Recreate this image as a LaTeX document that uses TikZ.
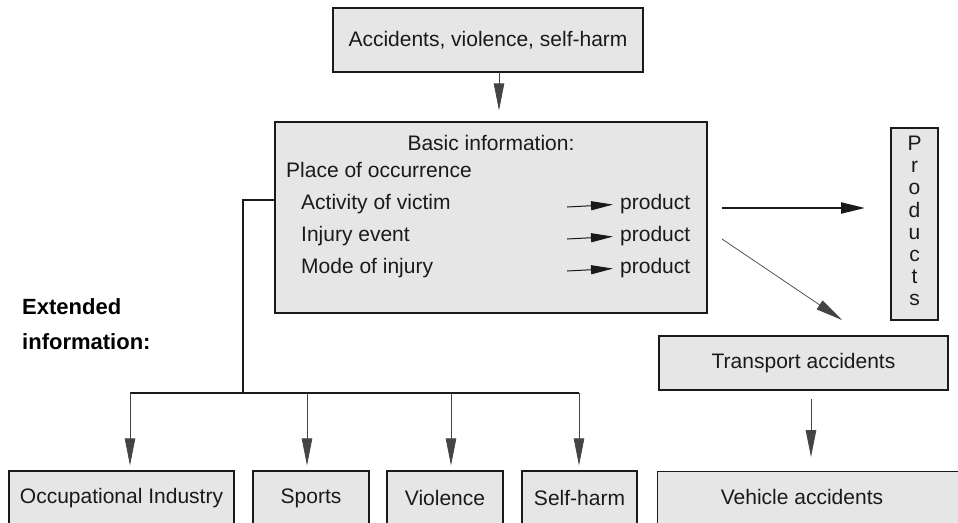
\documentclass[tikz,border=0pt]{standalone}
\usepackage{fontspec}
\setmainfont{Liberation Sans}
\usetikzlibrary{arrows.meta}
\definecolor{boxfill}{HTML}{E6E6E6}
\definecolor{ink}{HTML}{1A1A1A}
\definecolor{wire}{HTML}{444444}
\tikzset{
  box/.style={draw=ink, fill=boxfill, line width=1.3pt, inner sep=0pt, text=ink,
    font=\fontsize{21}{25}\selectfont},
  txt/.style={inner sep=0pt, anchor=mid west, text=ink, font=\fontsize{21}{25}\selectfont},
  arr/.style={draw=wire, line width=0.8pt, -{Triangle[length=27pt,width=10.5pt]}},
  sarr/.style={draw=ink, line width=1pt, -{Triangle[length=22pt,width=9pt]}},
  thickarr/.style={draw=ink, line width=2.4pt, -{Triangle[length=24pt,width=11pt]}},
  trunk/.style={draw=ink, line width=1.8pt},
}
\begin{document}
\begin{tikzpicture}[x=1pt,y=-1pt]
\clip (0,0) rectangle (958,522);
\fill[white] (0,0) rectangle (958,522);
% boxes
\node[box, minimum width=310, minimum height=64] (top) at (488,40) {Accidents, violence, self-harm};
\node[box, minimum width=432, minimum height=191] (basic) at (491,217.5) {};
\node[box, minimum width=47, minimum height=192] (prod) at (914.5,224) {};
\node[inner sep=0pt, align=center, text=ink, font=\fontsize{21}{22.2}\selectfont]
  (prodtxt) at (914.5,221) {P\\r\\o\\d\\u\\c\\t\\s};
\node[box, minimum width=289, minimum height=54] (transport) at (803.5,363) {Transport accidents};
\node[box, minimum width=320, minimum height=56, anchor=north west] (vehicle) at (657,471) {};
\node[txt, anchor=center] (vehicletxt) at (802,497) {Vehicle accidents};
\node[box, minimum width=225, minimum height=54] (occ) at (121.5,498) {Occupational Industry};
\node[box, minimum width=116, minimum height=54] (sports) at (311,498) {Sports};
\node[box, minimum width=116, minimum height=54] (viol) at (445,498) {Violence};
\node[box, minimum width=115, minimum height=54] (self) at (579.5,498) {Self-harm};
% basic box contents
\node[txt, anchor=center] (bi) at (491,143) {Basic information:};
\node[txt] (place) at (286,175) {Place of occurrence};
\node[txt] (act) at (301,207) {Activity of victim};
\node[txt] (inj) at (301,239) {Injury event};
\node[txt] (mode) at (301,271) {Mode of injury};
\node[txt] (p1) at (620,207) {product};
\node[txt] (p2) at (620,239) {product};
\node[txt] (p3) at (620,271) {product};
\coordinate (a1) at (567,207);
\coordinate (a2) at (567,239);
\coordinate (a3) at (567,271);
\draw[sarr, shorten >=7pt] (a1) -- (p1.west);
\draw[sarr, shorten >=7pt] (a2) -- (p2.west);
\draw[sarr, shorten >=7pt] (a3) -- (p3.west);
% extended info
\node[inner sep=0pt, anchor=west, align=left, text=black,
  font=\bfseries\fontsize{22}{35}\selectfont] (ext) at (22,324) {Extended\\information:};
% top arrow
\coordinate (t1) at (499,72);
\draw[arr, shorten >=11pt] (t1) -- (t1 |- basic.north);
% to products
\coordinate (pa) at (722,208);
\coordinate (pb) at (865,208);
\draw[thickarr] (pa) -- (pb);
\coordinate (da) at (722,239);
\coordinate (db) at (842,320);
\draw[arr, line width=0.7pt] (da) -- (db);
% transport -> vehicle
\coordinate (v1) at (811,399);
\draw[arr, shorten >=14pt] (v1) -- (v1 |- vehicle.north);
% trunk
\coordinate (j0) at (basic.west |- 0,200);
\coordinate (j1) at (243,200);
\coordinate (j2) at (243,393);
\draw[trunk] (j0) -- (j1) -- (j2);
\coordinate (b1) at (130,393);
\coordinate (b2) at (307,393);
\coordinate (b3) at (451,393);
\coordinate (b4) at (579,393);
\draw[trunk, line width=1.5pt] (b1) -- (b4);
\draw[arr, shorten >=5pt] (b1) -- (b1 |- occ.north);
\draw[arr, shorten >=5pt] (b2) -- (b2 |- sports.north);
\draw[arr, shorten >=5pt] (b3) -- (b3 |- viol.north);
\draw[arr, shorten >=5pt] (b4) -- (b4 |- self.north);
\end{tikzpicture}
\end{document}
